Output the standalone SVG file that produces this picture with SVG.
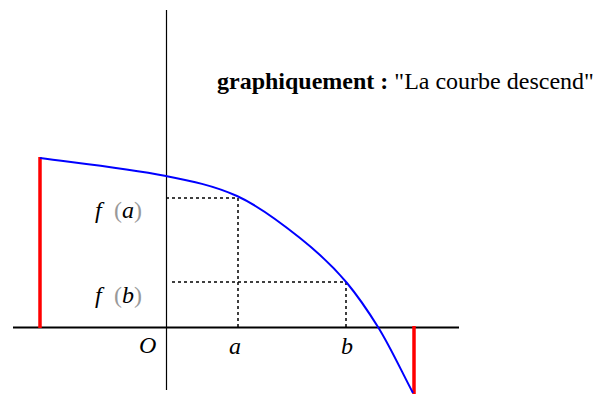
<svg xmlns="http://www.w3.org/2000/svg" width="608" height="396" viewBox="0 0 608 396">
<style>
.ax{stroke:#000;fill:none}
.dash{stroke:#000;stroke-width:1.5;stroke-dasharray:3,3;fill:none}
.red{stroke:#f00;stroke-width:3.5;fill:none}
.lbl{font-family:"Liberation Serif",serif;font-style:italic;font-size:24px;fill:#000}
.par{font-family:"Liberation Serif",serif;font-size:24px;fill:#999}
.title{font-family:"Liberation Serif",serif;font-size:24px;fill:#000}
</style>
<rect width="608" height="396" fill="#fff"/>
<g id="connectors">
<line class="ax" x1="166.5" y1="10" x2="166.5" y2="390" stroke-width="1.2"/>
<line class="ax" x1="13" y1="327.5" x2="459" y2="327.5" stroke-width="2.2"/>
<polyline class="dash" points="166,198 238,198 238,327"/>
<polyline class="dash" points="172,282 346,282 346,327"/>
<line class="red" x1="40" y1="157" x2="40" y2="328"/>
<line class="red" x1="414" y1="326" x2="414" y2="394"/>
<path d="M40,158 C82,163.5 124,167.6 166,176 C189.7,180.7 213.3,185.3 237,196 C258,205.5 279,221.2 300,238 C315.7,250.5 331.3,264.2 347,283 C357.3,295.4 367.7,310.5 378,327 C389.7,345.7 401.3,370.8 413,393" stroke="#00f" stroke-width="2" fill="none"/>
</g>
<g id="title">
<text class="title" x="217" y="89"><tspan font-weight="bold">graphiquement :</tspan> "La courbe descend"</text>
</g>
<g id="label-fa">
<text class="lbl" x="95" y="218">f</text><text class="par" x="114" y="218">(</text><text class="lbl" x="122" y="218">a</text><text class="par" x="134" y="218">)</text>
</g>
<g id="label-fb">
<text class="lbl" x="95" y="303">f</text><text class="par" x="114" y="303">(</text><text class="lbl" x="122" y="303">b</text><text class="par" x="134" y="303">)</text>
</g>
<g id="label-O"><text class="lbl" x="139" y="353">O</text></g>
<g id="label-a"><text class="lbl" x="229" y="354">a</text></g>
<g id="label-b"><text class="lbl" x="341" y="354">b</text></g>
</svg>
